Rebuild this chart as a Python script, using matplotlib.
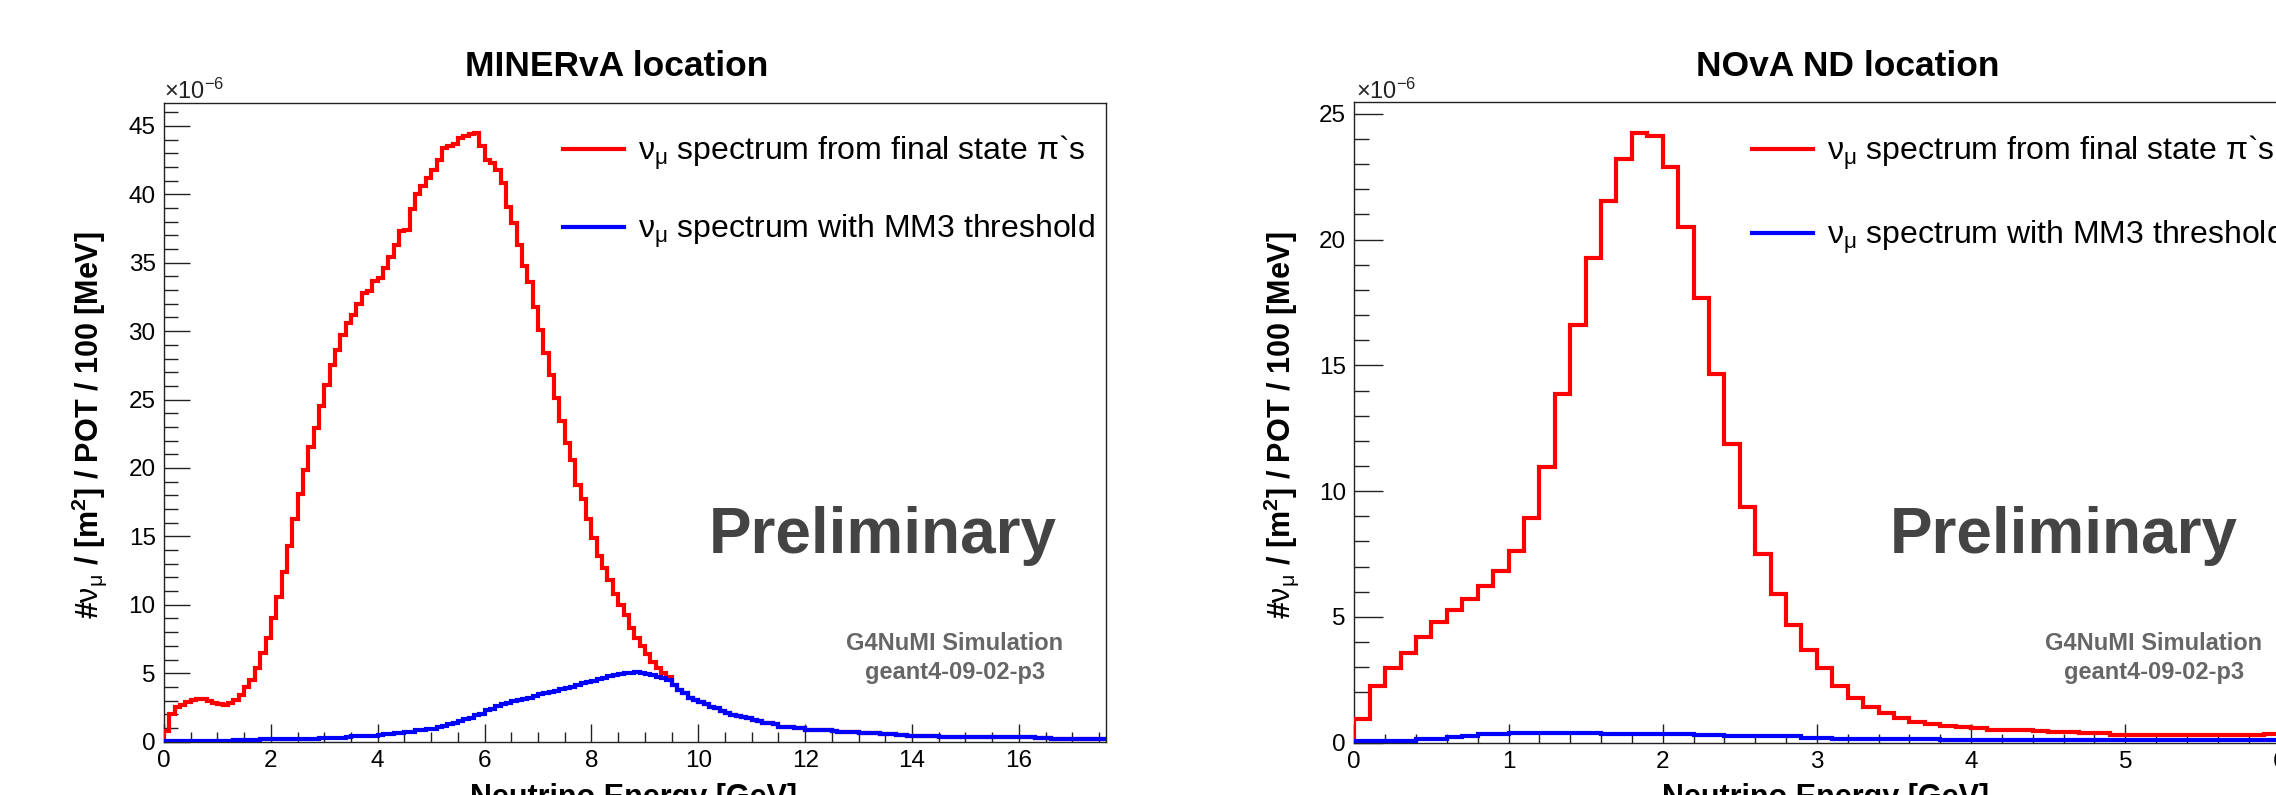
import numpy as np
import matplotlib
matplotlib.use("Agg")
import matplotlib.pyplot as plt
from matplotlib.ticker import MultipleLocator
from matplotlib.lines import Line2D

plt.rcParams['font.family'] = ['Liberation Sans', 'DejaVu Sans']
plt.rcParams['mathtext.fontset'] = 'custom'
plt.rcParams['mathtext.rm'] = 'Liberation Sans'
plt.rcParams['mathtext.it'] = 'Liberation Sans:italic'
plt.rcParams['mathtext.bf'] = 'Liberation Sans:bold'

# ---------------- data (units of 1e-6 nu_mu / m^2 / POT / 100 MeV) ----------------
BIN_WIDTH = 0.1  # GeV

# MINERvA location, nu_mu from final-state pions (bins 0.0-9.5 GeV; above that it coincides with the MM3 curve)
minerva_red_head = [
    0.8, 2.0, 2.5, 2.67, 2.87, 3.04, 3.09, 3.09, 2.99, 2.85, 2.72, 2.67, 2.8, 3.04, 3.4, 4.0, 4.5, 5.36,
    6.45, 7.55, 9.0, 10.6, 12.4, 14.3, 16.3, 18.1, 19.85, 21.56, 22.9, 24.5, 26.1, 27.5, 28.6, 29.7,
    30.6, 31.2, 32.0, 32.8, 32.9, 33.7, 33.9, 34.6, 35.4, 36.3,
    37.3, 37.4, 38.9, 40.0, 40.6, 41.2, 41.8, 42.5, 43.4, 43.5, 43.7, 44.1, 44.3, 44.4, 44.5, 43.5,
    42.5, 42.3, 41.8, 40.8, 39.1, 37.9, 36.3, 34.8, 33.6, 31.8, 30.1, 28.4, 26.8, 25.1, 23.4, 21.8,
    20.6, 18.75, 17.7, 16.3,
    14.9, 13.6, 12.7, 11.8, 10.8, 10.0, 9.25, 8.3, 7.55, 7.0, 6.4, 5.85, 5.36, 5.0, 4.7,
]
# MINERvA location, nu_mu with MM3 threshold
minerva_blue = [
    0.05, 0.05, 0.06, 0.06, 0.06, 0.07, 0.07, 0.07, 0.07, 0.08, 0.08, 0.08, 0.08, 0.09, 0.09, 0.09, 0.09, 0.10,
    0.17, 0.17, 0.18, 0.18, 0.18, 0.19, 0.19, 0.19, 0.20, 0.20, 0.21,
    0.27, 0.28, 0.28, 0.29, 0.29, 0.30,
    0.38, 0.39, 0.40, 0.41, 0.42,
    0.50, 0.52, 0.54,
    0.62, 0.65, 0.68, 0.72,
    0.82, 0.87, 0.91, 0.95,
    1.05, 1.12, 1.27, 1.36, 1.52, 1.62, 1.72, 1.95, 2.05, 2.28, 2.38,
    2.62, 2.72, 2.80, 2.95, 3.02, 3.12, 3.22, 3.32, 3.45, 3.55, 3.62, 3.72,
    3.82, 3.92, 4.02, 4.12, 4.25, 4.35,
    4.45, 4.55, 4.68, 4.80, 4.88, 4.95, 5.00, 5.05, 5.08, 5.02, 4.92, 4.85, 4.72, 4.63, 4.50,
    4.14, 3.77, 3.53, 3.21, 3.04,
    2.87, 2.72, 2.55, 2.42, 2.22, 2.08, 1.96, 1.90, 1.78, 1.72, 1.56, 1.50,
    1.37, 1.34, 1.30,
    1.10, 1.07, 1.05, 1.02, 1.00,
    0.88, 0.86, 0.85, 0.84, 0.82,
    0.74, 0.73, 0.72, 0.71, 0.70,
    0.62, 0.61, 0.60, 0.60, 0.59, 0.58, 0.57,
    0.46, 0.45, 0.44, 0.44, 0.43, 0.43, 0.42, 0.41,
    0.34, 0.34, 0.33, 0.33, 0.33, 0.32, 0.32, 0.32, 0.32, 0.31, 0.31, 0.31, 0.31, 0.30, 0.30, 0.30,
    0.30, 0.30, 0.29, 0.29, 0.29,
    0.22, 0.22, 0.22, 0.21, 0.21, 0.21, 0.21, 0.20, 0.20, 0.20, 0.20,
]
minerva_red = minerva_red_head + minerva_blue[len(minerva_red_head):]

# NOvA ND location
nova_red = [
    0.95, 2.26, 2.95, 3.55, 4.22, 4.79, 5.27, 5.72, 6.22, 6.82,
    7.63, 8.93, 10.95, 13.87, 16.6, 19.27, 21.55, 23.22, 24.24, 24.13,
    22.87, 20.48, 17.67, 14.66, 11.86, 9.38, 7.51, 5.9, 4.68, 3.68,
    2.97, 2.25, 1.76, 1.43, 1.17, 0.99, 0.83, 0.74, 0.68, 0.61,
    0.57, 0.52, 0.50, 0.49, 0.45, 0.44, 0.43, 0.38, 0.37, 0.32,
    0.31, 0.31, 0.31, 0.30, 0.30, 0.30, 0.30, 0.30, 0.30, 0.33, 0.33,
]
nova_blue = [
    0.07, 0.07, 0.07, 0.07, 0.13, 0.14, 0.21, 0.28, 0.33, 0.34,
    0.40, 0.40, 0.40, 0.40, 0.40, 0.40,
    0.34, 0.34, 0.33, 0.33, 0.33, 0.33, 0.32, 0.32,
    0.25, 0.25, 0.25, 0.25, 0.25,
    0.17, 0.17, 0.16, 0.16, 0.16, 0.16, 0.15, 0.15, 0.15,
] + [0.09] * 23

label_red = r"$\mathrm{\nu}_{\mathrm{\mu}}$ spectrum from final state π`s"
label_blue = r"$\mathrm{\nu}_{\mathrm{\mu}}$ spectrum with MM3 threshold"
ylabel = r"#$\mathrm{\nu}_{\mathrm{\mu}}$ / [m$^{\mathbf{2}}$] / POT / 100 [MeV]"
xlabel = "Neutrino Energy [GeV]"

# ---------------- layout ----------------
W, H = 2276, 795
fig = plt.figure(figsize=(W / 100, H / 100), dpi=100)
fig.patch.set_facecolor("white")


def fx(px):
    return px / W


def fy(py):
    return 1 - py / H


panels = [
    dict(title="MINERvA location", red=minerva_red, blue=minerva_blue,
         rect=[fx(164), fy(741.6), 942 / W, (741.6 - 102.7) / H],
         xlim=(0, 17.63), ylim=(0, 46.7), xmaj=2, xmin=0.5,
         ymaj_len=(18.5, 10), xmaj_len=(13, 7.5),
         title_x=617, xlab_x=634, ylab_x=89, prelim_x=709, sim_x=955, leg_x=563, leg_y=192,
         leg_sp=1.27, exp_x=164),
    dict(title="NOvA ND location", red=nova_red, blue=nova_blue,
         rect=[fx(1354.3), fy(742.7), 942 / W, (742.7 - 102.2) / H],
         xlim=(0, 942 / 154.2), ylim=(0, 25.46), xmaj=1, xmin=0.2,
         ymaj_len=(21, 11), xmaj_len=(13.5, 6.5),
         title_x=1848, xlab_x=1826, ylab_x=1281, prelim_x=1890, sim_x=2154, leg_x=1752, leg_y=195,
         leg_sp=1.45, exp_x=1356),
]

for p in panels:
    ax = fig.add_axes(p["rect"])
    for key, col in (("red", "#ff0000"), ("blue", "#0000ff")):
        vals = np.asarray(p[key], dtype=float)
        edges = np.arange(len(vals) + 1) * BIN_WIDTH
        ax.stairs(vals, edges, baseline=0, color=col, lw=3.0, zorder=3)
    ax.set_xlim(*p["xlim"])
    ax.set_ylim(*p["ylim"])
    ax.xaxis.set_major_locator(MultipleLocator(p["xmaj"]))
    ax.xaxis.set_minor_locator(MultipleLocator(p["xmin"]))
    ax.yaxis.set_major_locator(MultipleLocator(5))
    ax.yaxis.set_minor_locator(MultipleLocator(1))
    ax.tick_params(which="both", direction="in", top=False, right=False,
                   labelsize=17.5, width=1.0, color="#222222")
    ax.yaxis.set_tick_params(which="major", length=p["ymaj_len"][0], pad=6)
    ax.yaxis.set_tick_params(which="minor", length=p["ymaj_len"][1])
    ax.xaxis.set_tick_params(which="major", length=p["xmaj_len"][0], pad=6)
    ax.xaxis.set_tick_params(which="minor", length=p["xmaj_len"][1])
    for s in ax.spines.values():
        s.set_linewidth(1.0)
        s.set_color("#222222")

    handles = [Line2D([], [], color="#ff0000", lw=3.0), Line2D([], [], color="#0000ff", lw=3.0)]
    ax.legend(handles, [label_red, label_blue], loc="center left",
              bbox_to_anchor=(fx(p["leg_x"]), fy(p["leg_y"])), bbox_transform=fig.transFigure,
              frameon=False, borderpad=0, borderaxespad=0, fontsize=23,
              handlelength=1.9, handletextpad=0.45, labelspacing=p["leg_sp"])

    fig.text(fx(p["title_x"]), fy(66), p["title"], ha="center", va="center",
             fontsize=25.5, fontweight="bold")
    fig.text(fx(p["exp_x"]), fy(91), "×10$^{-6}$", ha="left", va="center", fontsize=17, color="#222222")
    fig.text(fx(p["ylab_x"]), fy(425), ylabel, rotation=90, ha="center", va="center",
             fontsize=22, fontweight="bold")
    fig.text(fx(p["xlab_x"]), fy(783), xlabel, ha="center", va="top",
             fontsize=22, fontweight="bold")
    fig.text(fx(p["prelim_x"]), fy(553), "Preliminary", ha="left", va="baseline",
             fontsize=46, fontweight="bold", color="#444444")
    fig.text(fx(p["sim_x"]), fy(643), "G4NuMI Simulation", ha="center", va="center",
             fontsize=17, fontweight="bold", color="#666666")
    fig.text(fx(p["sim_x"]), fy(673), "geant4-09-02-p3", ha="center", va="center",
             fontsize=17, fontweight="bold", color="#666666")

fig.savefig("out.png", dpi=100, facecolor="white")
